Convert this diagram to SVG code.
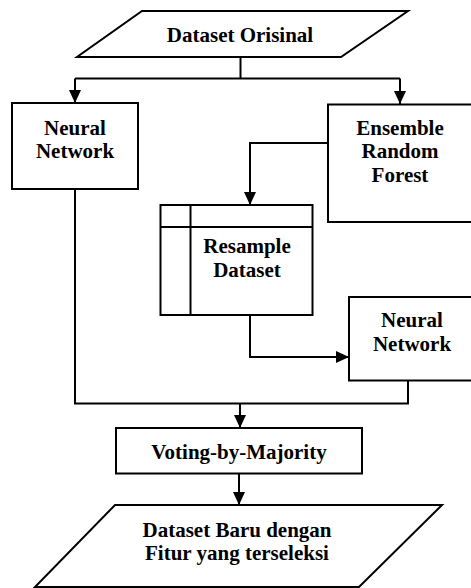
<svg xmlns="http://www.w3.org/2000/svg" width="471" height="588" viewBox="0 0 471 588">
<style>
.shape{fill:#fff;stroke:#000;stroke-width:2}
.line{fill:none;stroke:#000;stroke-width:2}
.t{font-family:"Liberation Serif","Times New Roman",serif;font-weight:bold;font-size:21px;fill:#000;text-anchor:middle}
</style>
<defs>
<marker id="arr" markerUnits="userSpaceOnUse" markerWidth="14" markerHeight="12" refX="13" refY="6" orient="auto">
<path d="M0,0 L13,6 L0,12 z" fill="#000"/>
</marker>
</defs>
<rect width="471" height="588" fill="#fff"/>
<g id="connectors">
<path class="line" d="M240.5,57 V78.5"/>
<path class="line" d="M75,78.5 H400"/>
<path class="line" d="M75,78.5 V103" marker-end="url(#arr)"/>
<path class="line" d="M400,78.5 V104" marker-end="url(#arr)"/>
<path class="line" d="M329,143 H250 V205" marker-end="url(#arr)"/>
<path class="line" d="M250,315 V357 H349" marker-end="url(#arr)"/>
<path class="line" d="M75,189 V403.5 H408 V381"/>
<path class="line" d="M240,403.5 V428" marker-end="url(#arr)"/>
<path class="line" d="M239,474 V505" marker-end="url(#arr)"/>
</g>
<g id="dataset-orisinal">
<polygon class="shape" points="142,11 408,11 341,57 77,57"/>
<text class="t" x="240" y="42">Dataset Orisinal</text>
</g>
<g id="neural-network-1">
<rect class="shape" x="12" y="103" width="126" height="86"/>
<text class="t" x="75" y="135">Neural</text>
<text class="t" x="75" y="158">Network</text>
</g>
<g id="ensemble-random-forest">
<rect class="shape" x="328" y="104.5" width="150" height="117.5"/>
<text class="t" x="400" y="135">Ensemble</text>
<text class="t" x="400" y="158">Random</text>
<text class="t" x="400" y="182">Forest</text>
</g>
<g id="resample-dataset">
<rect class="shape" x="160.5" y="205" width="152" height="110"/>
<path class="line" d="M160.5,227 H312.5 M190.5,205 V315"/>
<text class="t" x="247" y="253">Resample</text>
<text class="t" x="247" y="277">Dataset</text>
</g>
<g id="neural-network-2">
<rect class="shape" x="349" y="297" width="130" height="83.5"/>
<text class="t" x="412" y="327">Neural</text>
<text class="t" x="412" y="351">Network</text>
</g>
<g id="voting-by-majority">
<rect class="shape" x="116" y="428" width="246" height="45.5"/>
<text class="t" x="239" y="459">Voting-by-Majority</text>
</g>
<g id="dataset-baru">
<polygon class="shape" points="115,505 442,505 359,587 35,587"/>
<text class="t" x="237" y="537">Dataset Baru dengan</text>
<text class="t" x="237" y="560">Fitur yang terseleksi</text>
</g>
</svg>
